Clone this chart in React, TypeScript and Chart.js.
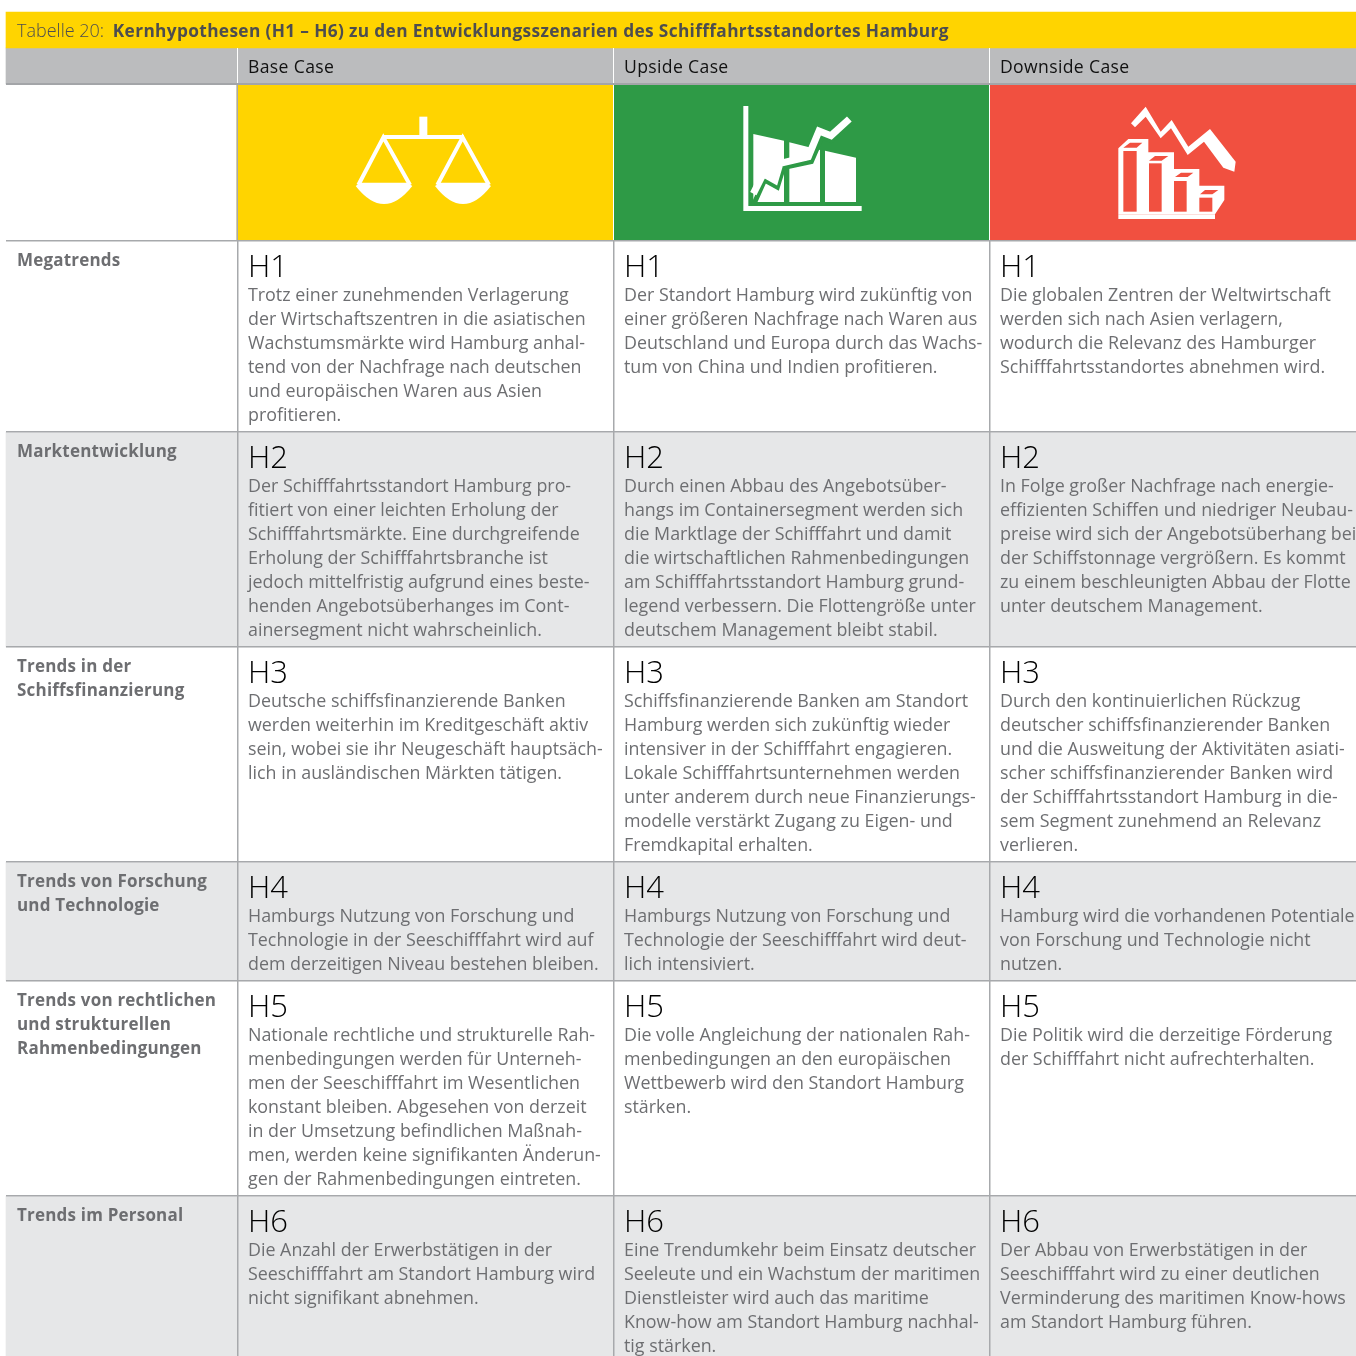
import React, { useEffect, useRef } from "react";
import { Chart, registerables } from "chart.js";

Chart.register(...registerables);

const titleLead = "Tabelle 20: ";
const titleBold = "Kernhypothesen (H1 – H6) zu den Entwicklungsszenarien des Schifffahrtsstandortes Hamburg";
const scenarios = ["Base Case", "Upside Case", "Downside Case"];
const rowLabels = [
  ["Megatrends"],
  ["Marktentwicklung"],
  ["Trends in der", "Schiffsfinanzierung"],
  ["Trends von Forschung", "und Technologie"],
  ["Trends von rechtlichen", "und strukturellen", "Rahmenbedingungen"],
  ["Trends im Personal"],
];
const hypotheses = ["H1", "H2", "H3", "H4", "H5", "H6"];
const baseCase = [
  ["Trotz einer zunehmenden Verlagerung", "der Wirtschaftszentren in die asiatischen", "Wachstumsmärkte wird Hamburg anhal-", "tend von der Nachfrage nach deutschen", "und europäischen Waren aus Asien", "profitieren."],
  ["Der Schifffahrtsstandort Hamburg pro-", "fitiert von einer leichten Erholung der", "Schifffahrtsmärkte. Eine durchgreifende", "Erholung der Schifffahrtsbranche ist", "jedoch mittelfristig aufgrund eines beste-", "henden Angebotsüberhanges im Cont-", "ainersegment nicht wahrscheinlich."],
  ["Deutsche schiffsfinanzierende Banken", "werden weiterhin im Kreditgeschäft aktiv", "sein, wobei sie ihr Neugeschäft hauptsäch-", "lich in ausländischen Märkten tätigen."],
  ["Hamburgs Nutzung von Forschung und", "Technologie in der Seeschifffahrt wird auf", "dem derzeitigen Niveau bestehen bleiben."],
  ["Nationale rechtliche und strukturelle Rah-", "menbedingungen werden für Unterneh-", "men der Seeschifffahrt im Wesentlichen", "konstant bleiben. Abgesehen von derzeit", "in der Umsetzung befindlichen Maßnah-", "men, werden keine signifikanten Änderun-", "gen der Rahmenbedingungen eintreten."],
  ["Die Anzahl der Erwerbstätigen in der", "Seeschifffahrt am Standort Hamburg wird", "nicht signifikant abnehmen."],
];
const upsideCase = [
  ["Der Standort Hamburg wird zukünftig von", "einer größeren Nachfrage nach Waren aus", "Deutschland und Europa durch das Wachs-", "tum von China und Indien profitieren."],
  ["Durch einen Abbau des Angebotsüber-", "hangs im Containersegment werden sich", "die Marktlage der Schifffahrt und damit", "die wirtschaftlichen Rahmenbedingungen", "am Schifffahrtsstandort Hamburg grund-", "legend verbessern. Die Flottengröße unter", "deutschem Management bleibt stabil."],
  ["Schiffsfinanzierende Banken am Standort", "Hamburg werden sich zukünftig wieder", "intensiver in der Schifffahrt engagieren.", "Lokale Schifffahrtsunternehmen werden", "unter anderem durch neue Finanzierungs-", "modelle verstärkt Zugang zu Eigen- und", "Fremdkapital erhalten."],
  ["Hamburgs Nutzung von Forschung und", "Technologie der Seeschifffahrt wird deut-", "lich intensiviert."],
  ["Die volle Angleichung der nationalen Rah-", "menbedingungen an den europäischen", "Wettbewerb wird den Standort Hamburg", "stärken."],
  ["Eine Trendumkehr beim Einsatz deutscher", "Seeleute und ein Wachstum der maritimen", "Dienstleister wird auch das maritime", "Know-how am Standort Hamburg nachhal-", "tig stärken."],
];
const downsideCase = [
  ["Die globalen Zentren der Weltwirtschaft", "werden sich nach Asien verlagern,", "wodurch die Relevanz des Hamburger", "Schifffahrtsstandortes abnehmen wird."],
  ["In Folge großer Nachfrage nach energie-", "effizienten Schiffen und niedriger Neubau-", "preise wird sich der Angebotsüberhang bei", "der Schiffstonnage vergrößern. Es kommt", "zu einem beschleunigten Abbau der Flotte", "unter deutschem Management."],
  ["Durch den kontinuierlichen Rückzug", "deutscher schiffsfinanzierender Banken", "und die Ausweitung der Aktivitäten asiati-", "scher schiffsfinanzierender Banken wird", "der Schifffahrtsstandort Hamburg in die-", "sem Segment zunehmend an Relevanz", "verlieren."],
  ["Hamburg wird die vorhandenen Potentiale", "von Forschung und Technologie nicht", "nutzen."],
  ["Die Politik wird die derzeitige Förderung", "der Schifffahrt nicht aufrechterhalten."],
  ["Der Abbau von Erwerbstätigen in der", "Seeschifffahrt wird zu einer deutlichen", "Verminderung des maritimen Know-hows", "am Standort Hamburg führen."],
];
const columnTexts = [baseCase, upsideCase, downsideCase];

// Table geometry, in axis units (1 unit = 1 px)
const colEdges = [6, 237, 613, 989, 1356];
const rowEdges = [241, 432, 647, 862, 981, 1196, 1356];
const YELLOW = "#FFD400";
const GREEN = "#2E9A46";
const RED = "#F15040";
const HEAD = "#BBBCBE";
const ALT = "#E6E7E8";
const RULE = "#A7A9AC";
const BODY = "#6D6E71";
const FONT = '"Open Sans"';

const band = (top: number, bottom: number, colours: string[], label: string) => ({
  label,
  barThickness: bottom - top,
  grouped: false,
  backgroundColor: colours,
  borderWidth: 0,
  data: colours.map((_, i) => ({ x: [colEdges[i], colEdges[i + 1]], y: (top + bottom) / 2 })),
});

const datasets = [
  { label: "title", barThickness: 36, grouped: false, backgroundColor: [YELLOW], borderWidth: 0, data: [{ x: [6, 1356], y: 30 }] },
  band(48, 84, [HEAD, HEAD, HEAD, HEAD], "header"),
  band(85, 240, ["#FFFFFF", YELLOW, GREEN, RED], "icons"),
  ...rowEdges.slice(0, -1).map((top, r) => {
    const c = r % 2 === 1 ? ALT : "#FFFFFF";
    return band(top, rowEdges[r + 1], [c, c, c, c], hypotheses[r]);
  }),
];

const tablePlugin = {
  id: "table",
  afterDatasetsDraw(chart: any) {
    const { ctx, scales } = chart;
    const X = (v: number) => scales.x.getPixelForValue(v);
    const Y = (v: number) => scales.y.getPixelForValue(v);
    const rect = (x0: number, y0: number, x1: number, y1: number, c: string) => {
      ctx.fillStyle = c;
      ctx.fillRect(X(x0), Y(y0), X(x1) - X(x0), Y(y1) - Y(y0));
    };
    ctx.save();
    // rules
    rect(6, 83, 1356, 85, "#A3A5A8");
    rect(237, 85, 613, 240, YELLOW);
    rect(613, 85, 989, 240, GREEN);
    rect(989, 85, 1356, 240, RED);
    colEdges.slice(1, 4).forEach((e) => {
      rect(e, 48, e + 1, 83, "#FFFFFF");
      rect(e, 240, e + 1.5, 1356, RULE);
    });
    rect(236.5, 85, 238, 240, RULE);
    rect(613, 85, 614, 240, "#FFFFFF");
    rect(989, 85, 990, 240, "#FFFFFF");
    [240, 431, 646, 861, 980, 1195].forEach((y) => rect(6, y, 1356, y + 1.5, RULE));

    const text = (s: string, x: number, y: number, font: string, colour: string, spacing = "0px") => {
      ctx.font = font;
      ctx.fillStyle = colour;
      ctx.letterSpacing = spacing;
      ctx.textBaseline = "alphabetic";
      ctx.fillText(s, X(x), Y(y));
      return ctx.measureText(s).width;
    };
    const w = text(titleLead, 17, 36.5, `300 18px ${FONT}`, "#4D4D4F");
    text(titleBold, 17 + w + 4, 36.5, `700 17.3px ${FONT}`, "#4D4D4F", "0.35px");
    scenarios.forEach((s, i) => text(s, colEdges[i + 1] + 11, 72.5, `500 17.6px ${FONT}`, "#111111", "0.35px"));
    rowLabels.forEach((lines, r) =>
      lines.forEach((l, i) => text(l, 17, rowEdges[r] + 25.4 + i * 24, `700 17px ${FONT}`, BODY, "0.2px")),
    );
    columnTexts.forEach((col, c) => {
      const x = colEdges[c + 1] + 11;
      col.forEach((lines, r) => {
        text(hypotheses[r], x, rowEdges[r] + 35.5, `300 31px ${FONT}`, "#000000");
        lines.forEach((l, i) => text(l, x, rowEdges[r] + 59.6 + i * 24, `400 17.85px ${FONT}`, BODY));
      });
    });
    ctx.letterSpacing = "0px";

    // icons
    const poly = (ox: number, oy: number, pts: number[][], colour: string) => {
      ctx.beginPath();
      pts.forEach(([a, b], i) => (i ? ctx.lineTo(X(ox + a / 3), Y(oy + b / 3)) : ctx.moveTo(X(ox + a / 3), Y(oy + b / 3))));
      ctx.closePath();
      ctx.fillStyle = colour;
      ctx.fill();
    };
    const stroke = (ox: number, oy: number, pts: number[][], colour: string, width: number) => {
      ctx.beginPath();
      pts.forEach(([a, b], i) => (i ? ctx.lineTo(X(ox + a / 3), Y(oy + b / 3)) : ctx.moveTo(X(ox + a / 3), Y(oy + b / 3))));
      ctx.strokeStyle = colour;
      ctx.lineWidth = width;
      ctx.lineJoin = "miter";
      ctx.stroke();
    };
    const W = "#FFFFFF";
    // scales
    poly(340, 100, [[238, 50], [262, 50], [262, 105], [238, 105]], W);
    poly(340, 100, [[128, 105], [372, 105], [372, 117], [128, 117]], W);
    stroke(340, 100, [[55, 255], [130, 112], [210, 255]], W, 4);
    stroke(340, 100, [[292, 255], [368, 112], [447, 255]], W, 4);
    [[47, 217], [285, 453]].forEach(([a, b]) => {
      ctx.beginPath();
      ctx.moveTo(X(340 + a / 3), Y(100 + 258 / 3));
      ctx.lineTo(X(340 + (a + 15) / 3), Y(100 + 248 / 3));
      ctx.lineTo(X(340 + (b - 15) / 3), Y(100 + 248 / 3));
      ctx.lineTo(X(340 + b / 3), Y(100 + 258 / 3));
      ctx.quadraticCurveTo(X(340 + (a + b) / 6), Y(100 + 366 / 3), X(340 + a / 3), Y(100 + 258 / 3));
      ctx.fillStyle = W;
      ctx.fill();
    });
    // upside
    poly(730, 95, [[70, 117], [162, 137], [162, 321], [70, 321]], W);
    poly(730, 95, [[178, 142], [270, 165], [270, 321], [178, 321]], W);
    poly(730, 95, [[285, 167], [378, 188], [378, 321], [285, 321]], W);
    stroke(730, 95, [[72, 326], [104, 255], [142, 276], [160, 218], [244, 200], [276, 125], [303, 137], [365, 90]], GREEN, 5);
    stroke(730, 95, [[70, 296], [100, 236], [135, 256], [150, 205], [235, 185], [267, 108], [303, 122], [358, 72]], W, 7);
    poly(730, 95, [[40, 33], [55, 33], [55, 333], [395, 333], [395, 348], [40, 348]], W);
    // downside
    poly(1105, 95, [[78, 85], [122, 35], [167, 110], [200, 75], [250, 155], [315, 102], [392, 200], [388, 230], [355, 218], [297, 140], [248, 180], [198, 100], [167, 130], [122, 65], [90, 97]], W);
    poly(1105, 95, [[40, 358], [330, 358], [330, 372], [40, 372]], W);
    poly(1105, 95, [[40, 160], [70, 132], [130, 132], [130, 172], [207, 172], [207, 222], [283, 222], [283, 272], [358, 272], [358, 315], [330, 358], [40, 358], [40, 348]], W);
    poly(1105, 95, [[55, 168], [95, 168], [95, 350], [55, 350]], RED);
    poly(1105, 95, [[55, 158], [75, 143], [112, 143], [95, 158]], RED);
    poly(1105, 95, [[132, 205], [170, 205], [170, 350], [132, 350]], RED);
    poly(1105, 95, [[132, 197], [150, 183], [190, 183], [170, 197]], RED);
    poly(1105, 95, [[207, 258], [245, 258], [245, 350], [207, 350]], RED);
    poly(1105, 95, [[210, 246], [228, 233], [265, 233], [248, 246]], RED);
    poly(1105, 95, [[283, 308], [322, 308], [322, 350], [283, 350]], RED);
    poly(1105, 95, [[285, 298], [300, 285], [340, 285], [322, 298]], RED);
    ctx.restore();
  },
};

export default function App() {
  const ref = useRef<HTMLCanvasElement>(null);
  useEffect(() => {
    document.body.style.margin = "0";
    const chart = new Chart(ref.current as HTMLCanvasElement, {
      type: "bar",
      data: { datasets: datasets as any },
      options: {
        indexAxis: "y",
        responsive: false,
        animation: false,
        layout: { padding: 0 },
        plugins: { legend: { display: false }, tooltip: { enabled: false }, title: { display: false } },
        scales: {
          x: { type: "linear", min: 0, max: 1356, display: false, offset: false },
          y: { type: "linear", min: 0, max: 1356, reverse: true, display: false, offset: false },
        },
      },
      plugins: [tablePlugin as any],
    } as any);
    return () => chart.destroy();
  }, []);
  return <canvas ref={ref} width={1356} height={1356} style={{ display: "block", background: "#fff" }} />;
}
